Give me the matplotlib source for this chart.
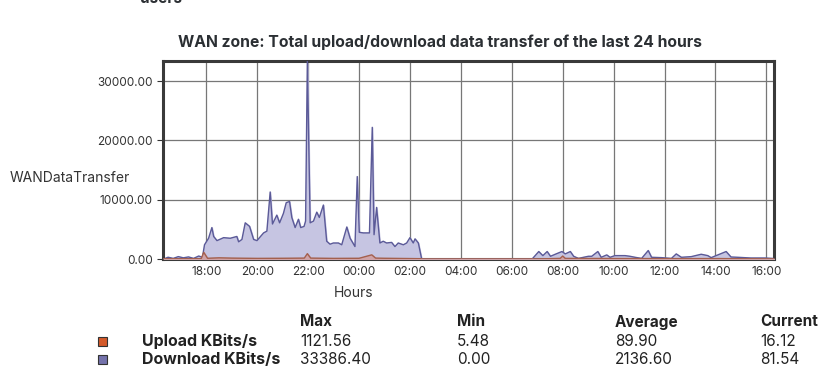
import numpy as np
import matplotlib
matplotlib.use("Agg")
from matplotlib import pyplot as plt
from matplotlib.patches import Rectangle

plt.rcParams['font.family'] = ['Inter', 'DejaVu Sans']

# hours counted from 16:00 of the first day
dl_hours = [0.33, 0.5, 0.7, 0.9, 1.1, 1.3, 1.5, 1.7, 1.85, 1.93, 2.09, 2.22, 2.29, 2.42,
            2.68, 2.94, 3.20, 3.27, 3.40, 3.53, 3.70, 3.86, 3.99, 4.25, 4.38, 4.51, 4.60,
            4.77, 4.88, 5.03, 5.14, 5.27, 5.36, 5.49, 5.62, 5.71, 5.84, 5.90, 5.97, 6.08,
            6.21, 6.34, 6.44, 6.60, 6.73, 6.86, 6.99, 7.19, 7.32, 7.52, 7.65, 7.84, 7.93,
            8.01, 8.17, 8.41, 8.52, 8.59, 8.69, 8.82, 8.95, 9.08, 9.28, 9.41, 9.54, 9.74,
            9.87, 10.00, 10.13, 10.20, 10.33, 10.46, 14.80, 15.06, 15.22, 15.39, 15.52,
            15.74, 15.97, 16.10, 16.30, 16.43, 16.62, 16.82, 17.01, 17.14, 17.38, 17.51,
            17.73, 17.86, 18.05, 18.45, 18.64, 18.84, 19.10, 19.36, 19.49, 19.88, 20.27,
            20.46, 20.66, 21.05, 21.44, 21.70, 21.83, 22.42, 22.61, 22.87, 23.39, 23.95, 24.3]
dl_vals = [0, 300, 100, 400, 200, 350, 100, 500, 300, 2400, 3500, 5300, 3800, 3100,
           3600, 3500, 3800, 2900, 3300, 6100, 5500, 3300, 3100, 4400, 4700, 11300, 5900,
           7400, 6100, 7700, 9500, 9700, 7000, 5300, 6700, 5300, 5500, 6400, 33386.4, 6100,
           6400, 7900, 7000, 9100, 3000, 2500, 2700, 2700, 2400, 5400, 3500, 2100, 13900,
           4500, 4400, 4400, 22200, 4100, 8700, 2700, 3000, 2700, 2800, 2100, 2700, 2400,
           2700, 3600, 2700, 3400, 2700, 0, 0, 1260, 570, 1260, 460,
           860, 1260, 860, 1260, 460, 100, 290, 460, 460, 1260, 290,
           690, 290, 570, 570, 460, 290, 100, 1430, 290, 230, 100,
           860, 290, 400, 800, 570, 230, 1260, 340, 290, 170, 170, 81.54]

ul_hours = [0.33, 1.8, 1.9, 2.05, 2.5, 3.0, 4.0, 5.0, 5.85, 5.97, 6.1, 7.0, 8.0, 8.5,
            8.65, 9.0, 10.4, 10.5, 15.0, 15.9, 16.0, 16.1, 18.0, 20.0, 22.0, 24.3]
ul_vals = [30, 60, 1121.56, 120, 200, 150, 100, 120, 150, 900, 150, 100, 120, 700,
           150, 120, 50, 5.48, 5.48, 100, 500, 100, 80, 60, 70, 16.12]

tick_hours = [2, 4, 6, 8, 10, 12, 14, 16, 18, 20, 22, 24]
tick_labels = ["18:00", "20:00", "22:00", "00:00", "02:00", "04:00", "06:00",
               "08:00", "10:00", "12:00", "14:00", "16:00"]
y_ticks = [0, 10000, 20000, 30000]

series = ["Upload KBits/s", "Download KBits/s"]
stat_cols = ["Max", "Min", "Average", "Current"]
stats = [["1121.56", "5.48", "89.90", "16.12"],
         ["33386.40", "0.00", "2136.60", "81.54"]]
swatch = ["#d45a2a", "#7472ab"]

fig = plt.figure(figsize=(8.39, 3.85), dpi=100)
ax = fig.add_axes([163/839, 1-259/385, (774-163)/839, (259-61)/385])

ax.fill_between(dl_hours, dl_vals, color="#c6c5e2", zorder=2)
ax.plot(dl_hours, dl_vals, color="#5b5a98", lw=1.0, zorder=3)
ax.fill_between(ul_hours, ul_vals, color="#cfa3a8", zorder=4)
ax.plot(ul_hours, ul_vals, color="#a4604e", lw=1.0, zorder=5)

ax.set_xlim(0.3, 24.3)
ax.set_ylim(0, 33386.4)
ax.set_xticks(tick_hours)
ax.set_xticklabels(tick_labels)
ax.set_yticks(y_ticks)
ax.set_yticklabels(["%.2f" % v for v in y_ticks])
ax.grid(True, color="#777777", lw=0.9, zorder=1)
ax.set_axisbelow(True)
ax.tick_params(axis='both', labelsize=8.5, colors="#333333", length=4, width=0.8)
ax.tick_params(axis='x', length=0, pad=5)
for s in ax.spines.values():
    s.set_color("#3a3a3a")
    s.set_linewidth(2.2)

fig.text(440/839, 1-42/385, "WAN zone: Total upload/download data transfer of the last 24 hours",
         ha='center', va='center', fontsize=11.3, fontweight='bold', color="#2b2f33")
fig.text(140/839, 1.005, "users", ha='left', va='center', fontsize=11,
         fontweight='bold', color="#2b2f33")
fig.text(10/839, 1-178/385, "WANDataTransfer", ha='left', va='center', fontsize=10,
         color="#333333")
fig.text(354/839, 1-293/385, "Hours", ha='center', va='center', fontsize=10,
         color="#333333")

col_x = [300, 457, 615, 760]
for cx, name in zip(col_x, stat_cols):
    fig.text(cx/839, 1-322/385, name, ha='left', va='center', fontsize=11,
             fontweight='bold', color="#222222")
row_y = [341, 359]
for ry, name, vals, c in zip(row_y, series, stats, swatch):
    fig.patches.append(Rectangle((98/839, 1-(ry+5)/385), 9/839, 9/385,
                                 transform=fig.transFigure, facecolor=c,
                                 edgecolor="#333333", lw=0.8))
    fig.text(142/839, 1-ry/385, name, ha='left', va='center', fontsize=11.5,
             fontweight='bold', color="#222222")
    for cx, v in zip(col_x, vals):
        fig.text(cx/839, 1-ry/385, v, ha='left', va='center', fontsize=11,
                 color="#222222")

fig.savefig("out.png", dpi=100)
